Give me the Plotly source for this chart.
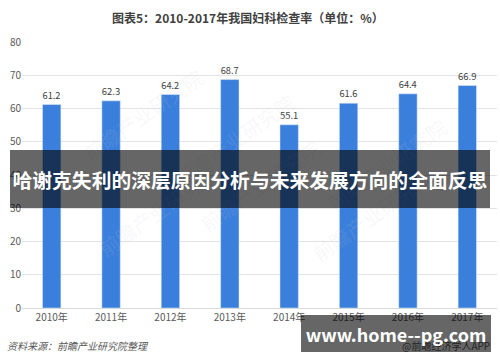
import plotly.graph_objects as go

years = ["2010年", "2011年", "2012年", "2013年", "2014年", "2015年", "2016年", "2017年"]
rates = [61.2, 62.3, 64.2, 68.7, 55.1, 61.6, 64.4, 66.9]
y_ticks = [0, 10, 20, 30, 40, 50, 60, 70, 80]

title_text = "图表5：2010-2017年我国妇科检查率（单位：%）"
banner_text = "哈谢克失利的深层原因分析与未来发展方向的全面反思"
site_text = "www.home--pg.com"
source_text = "资料来源：前瞻产业研究院整理"
credit_text = "@前瞻经济学人APP"
watermark = "前瞻产业研究院"

W, H = 500, 362
L, R, T, B = 22, 3, 42, 54
PW, PH = W - L - R, H - T - B

def px(x):
    return (x - L) / PW

def py(y):
    return (H - B - y) / PH

FONT = "Noto Sans CJK SC, Microsoft YaHei, sans-serif"

fig = go.Figure(go.Bar(
    x=years, y=rates,
    marker_color="#3a7fdc",
    width=0.31,
    text=[f"{v:.1f}" for v in rates],
    textposition="outside",
    textfont=dict(size=10, color="#404040", family=FONT),
    cliponaxis=False,
))

annotations = []
# faint watermarks
for (wx, wy) in [(75, 60), (235, 85), (455, 110), (90, 265), (260, 240), (440, 270)]:
    annotations.append(dict(
        text=watermark, x=px(wx), y=py(wy), xref="paper", yref="paper",
        showarrow=False, textangle=-35,
        font=dict(size=20, color="rgba(200,205,215,0.15)", family=FONT),
    ))

annotations += [
    dict(text=title_text, x=px(248), y=py(17), xref="paper", yref="paper",
         showarrow=False, xanchor="center", yanchor="middle",
         font=dict(size=12, color="#404040", family=FONT, weight="bold")),
    dict(text=source_text, x=px(5), y=py(345), xref="paper", yref="paper",
         showarrow=False, xanchor="left", yanchor="middle",
         font=dict(size=10, color="#595959", family=FONT, style="italic")),
    dict(text=credit_text, x=px(492), y=py(345), xref="paper", yref="paper",
         showarrow=False, xanchor="right", yanchor="middle",
         font=dict(size=10, color="#595959", family=FONT)),
    dict(text=banner_text, x=px(250), y=py(179), xref="paper", yref="paper",
         showarrow=False, xanchor="center", yanchor="middle",
         width=480, height=58, borderpad=0, borderwidth=0,
         bgcolor="rgba(0,0,0,0.6)",
         font=dict(size=19.8, color="white", family=FONT, weight="bold")),
    dict(text=site_text, x=px(396), y=py(333.5), xref="paper", yref="paper",
         showarrow=False, xanchor="center", yanchor="middle",
         width=190, height=37, borderpad=0, borderwidth=0,
         bgcolor="rgba(0,0,0,0.6)",
         font=dict(size=18, color="white", family=FONT, weight="bold")),
]

fig.update_layout(
    width=W, height=H,
    margin=dict(l=L, r=R, t=T, b=B),
    paper_bgcolor="white", plot_bgcolor="white",
    showlegend=False,
    annotations=annotations,
)
fig.update_xaxes(
    showgrid=False, showline=True, linecolor="#d9d9d9", linewidth=1,
    tickfont=dict(size=10, color="#595959", family=FONT), ticks="",
)
fig.update_yaxes(
    range=[0, 80], tickvals=y_ticks, showgrid=True, gridcolor="#e3e3e3",
    zeroline=False, showline=False, ticks="",
    tickfont=dict(size=10, color="#595959", family=FONT),
)

fig.write_html("out.html", config={"displayModeBar": False},
               post_script="document.body.style.margin='0px';")
